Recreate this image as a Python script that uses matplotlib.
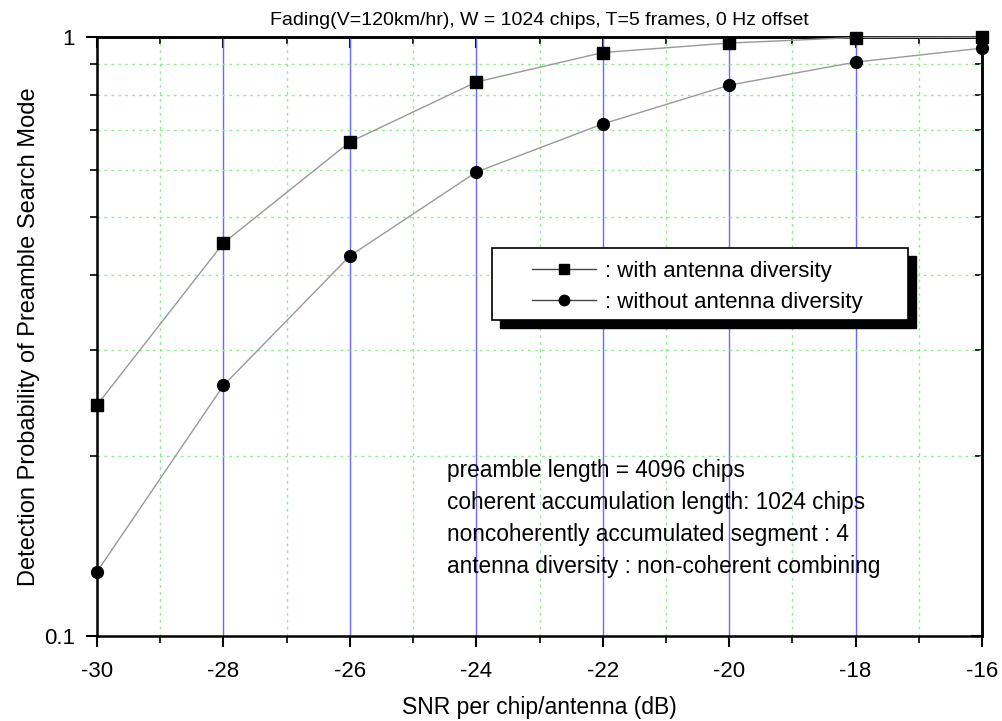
import matplotlib
matplotlib.use("Agg")
import matplotlib.pyplot as plt
from matplotlib.patches import Rectangle
from matplotlib.lines import Line2D
from matplotlib.ticker import NullFormatter, FixedLocator

plt.rcParams['font.family'] = ['Liberation Sans', 'DejaVu Sans']

snr = [-30, -28, -26, -24, -22, -20, -18, -16]
with_div = [0.243, 0.453, 0.668, 0.841, 0.942, 0.977, 0.998, 0.999]
without_div = [0.128, 0.262, 0.431, 0.595, 0.716, 0.831, 0.908, 0.958]
label_with = ": with antenna diversity"
label_without = ": without antenna diversity"
title = "Fading(V=120km/hr), W = 1024 chips, T=5 frames, 0 Hz offset"
xlabel = "SNR per chip/antenna (dB)"
ylabel = "Detection Probability of Preamble Search Mode"
notes = ["preamble length = 4096 chips",
         "coherent accumulation length: 1024 chips",
         "noncoherently accumulated segment : 4",
         "antenna diversity : non-coherent combining"]
xticks = [-30, -28, -26, -24, -22, -20, -18, -16]
xminor = [-29, -27, -25, -23, -21, -19, -17]
yticks = [0.1, 1]
yticklabels = ["0.1", "1"]
yminor = [0.2, 0.3, 0.4, 0.5, 0.6, 0.7, 0.8, 0.9]

fig = plt.figure(figsize=(10.03, 7.21), dpi=100)
ax = fig.add_axes([97/1003, 1-636/721, 885/1003, 599/721])
ax.set_yscale('log')
ax.set_xlim(-30, -16)
ax.set_ylim(0.1, 1)

# grid
for x in xticks[1:-1]:
    ax.axvline(x, color='#6a6aff', lw=1.0, zorder=1)
for x in xminor:
    ax.axvline(x, color='#90ee90', lw=1.0, ls=(0, (2, 3)), zorder=1)
for y in yminor:
    ax.axhline(y, color='#90ee90', lw=1.0, ls=(0, (2, 3)), zorder=1)

ax.plot(snr, with_div, color='#999999', lw=1.0, marker='s', ms=8,
        mfc='black', mec='black', clip_on=False, zorder=5)
ax.plot(snr, without_div, color='#999999', lw=1.0, marker='o', ms=8.5,
        mfc='black', mec='black', clip_on=False, zorder=5)

ax.set_xticks(xticks)
ax.set_xticklabels([str(t) for t in xticks])
ax.xaxis.set_minor_locator(FixedLocator(xminor))
ax.yaxis.set_major_locator(FixedLocator(yticks))
ax.set_yticklabels(yticklabels)
ax.yaxis.set_minor_locator(FixedLocator(yminor))
ax.yaxis.set_minor_formatter(NullFormatter())
ax.tick_params(which='major', direction='out', length=8, width=1.5, labelsize=16)
ax.tick_params(axis='x', which='major', pad=10)
ax.tick_params(axis='y', which='major', pad=8)
ax.tick_params(which='minor', direction='out', length=5, width=1.2)
for s in ax.spines.values():
    s.set_linewidth(1.8)

secx = ax.secondary_xaxis('top')
secx.set_xticks(xticks)
secx.xaxis.set_minor_locator(FixedLocator(xminor))
secx.tick_params(which='major', direction='in', length=8, width=1.5, labeltop=False)
secx.tick_params(which='minor', direction='in', length=5, width=1.2)
secx.spines['top'].set_linewidth(1.8)

secy = ax.secondary_yaxis('right')
secy.set_yscale('log')
secy.yaxis.set_major_locator(FixedLocator(yticks))
secy.yaxis.set_minor_locator(FixedLocator(yminor))
secy.yaxis.set_minor_formatter(NullFormatter())
secy.tick_params(which='major', direction='in', length=8, width=1.5, labelright=False)
secy.tick_params(which='minor', direction='in', length=5, width=1.2)
secy.spines['right'].set_linewidth(1.8)

ax.set_title(title, fontsize=14, pad=9)
ax.set_xlabel(xlabel, fontsize=16.5, labelpad=10)
ax.set_ylabel(ylabel, fontsize=17, labelpad=3)

# legend box with shadow
lx0, lx1 = (492-97)/885, (908-97)/885
ly1, ly0 = (636-248)/599, (636-320)/599
sh = 8/885, 8/599
ax.add_patch(Rectangle((lx0+sh[0], ly0-sh[1]), lx1-lx0, ly1-ly0, transform=ax.transAxes,
                       facecolor='black', edgecolor='black', zorder=8))
ax.add_patch(Rectangle((lx0, ly0), lx1-lx0, ly1-ly0, transform=ax.transAxes,
                       facecolor='white', edgecolor='black', lw=1.2, zorder=9))
handles = [Line2D([], [], color='#444444', lw=1.0, marker='s', ms=7, mfc='black', mec='black'),
           Line2D([], [], color='#444444', lw=1.0, marker='o', ms=7.5, mfc='black', mec='black')]
leg = ax.legend(handles, [label_with, label_without], loc='upper left',
                bbox_to_anchor=((532-97)/885, (636-261)/599), frameon=False,
                fontsize=16, handlelength=2.9, handletextpad=0.4, labelspacing=0.45,
                borderpad=0, borderaxespad=0)
leg.set_zorder(10)

for i, t in enumerate(notes):
    ax.text((447-97)/885, (636-470-32*i)/599, t, transform=ax.transAxes,
            fontsize=16.3, va='center', ha='left', zorder=6)

fig.savefig("out.png", dpi=100)
